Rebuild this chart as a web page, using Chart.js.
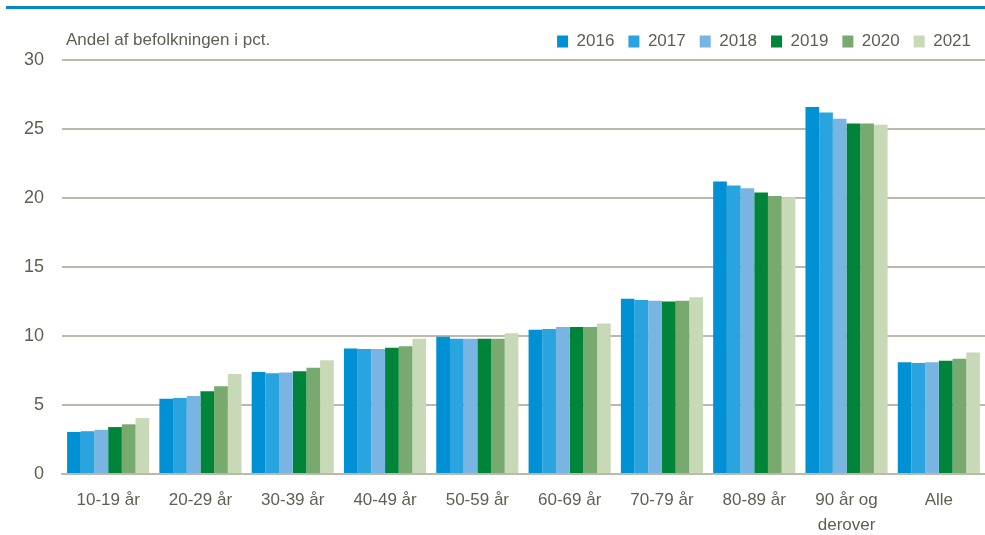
<!DOCTYPE html>
<html>
<head>
<meta charset="utf-8">
<script src="https://cdn.jsdelivr.net/npm/chart.js@4"></script>
<style>
  html, body { margin: 0; padding: 0; background: #fff; }
  #wrap { position: relative; width: 985px; height: 535px; }
  #topline { position: absolute; left: 6px; right: 0; top: 6px; height: 3px; background: #0089cf; }
  canvas { position: absolute; left: 0; top: 0; }
</style>
</head>
<body>
<div id="wrap">
  <canvas id="canvas" width="985" height="535"></canvas>
  <div id="topline"></div>
</div>
<script>
const ctx = document.getElementById('canvas').getContext('2d');

const FONT = '"Liberation Sans Narrow", "Arial Narrow", "Liberation Sans", sans-serif';
const TEXT_COLOR = '#5f5f53';
const GRID_COLOR = '#b9b9ac';

const categories = ['10-19 år', '20-29 år', '30-39 år', '40-49 år', '50-59 år',
    '60-69 år', '70-79 år', '80-89 år', ['90 år og', 'derover'], 'Alle'];
const years = ['2016', '2017', '2018', '2019', '2020', '2021'];
const colors = ['#0090d4', '#29a4de', '#78b5e3', '#00843a', '#78aa6f', '#c8d9b7'];

const v2016 = [3.05, 5.45, 7.4, 9.1, 9.95, 10.45, 12.7, 21.2, 26.6, 8.1];
const v2017 = [3.1, 5.5, 7.3, 9.05, 9.8, 10.5, 12.6, 20.9, 26.2, 8.05];
const v2018 = [3.2, 5.65, 7.35, 9.05, 9.8, 10.65, 12.55, 20.7, 25.75, 8.1];
const v2019 = [3.4, 6.0, 7.45, 9.15, 9.8, 10.65, 12.5, 20.4, 25.4, 8.2];
const v2020 = [3.6, 6.35, 7.7, 9.25, 9.8, 10.65, 12.55, 20.15, 25.4, 8.35];
const v2021 = [4.05, 7.25, 8.25, 9.8, 10.2, 10.9, 12.8, 20.05, 25.3, 8.8];
const series = [v2016, v2017, v2018, v2019, v2020, v2021];

const yTicks = [0, 5, 10, 15, 20, 25, 30];
const yTitle = 'Andel af befolkningen i pct.';

// title drawn at top left, level with the legend
const titlePlugin = {
    id: 'sideTitle',
    afterDraw(chart) {
        const c = chart.ctx;
        c.save();
        c.font = '17px ' + FONT;
        c.fillStyle = TEXT_COLOR;
        c.textBaseline = 'middle';
        c.textAlign = 'left';
        c.fillText(yTitle, 66, 40);
        c.restore();
    }
};

new Chart(ctx, {
    type: 'bar',
    data: {
        labels: categories,
        datasets: years.map((y, i) => ({
            label: y,
            data: series[i],
            backgroundColor: colors[i],
            borderWidth: 0,
            categoryPercentage: 0.89,
            barPercentage: 1.0
        }))
    },
    options: {
        responsive: false,
        animation: false,
        layout: { padding: { top: 19, right: 0, bottom: 0, left: 0 } },
        plugins: {
            legend: {
                position: 'top',
                align: 'end',
                labels: {
                    boxWidth: 11,
                    boxHeight: 12,
                    padding: 14,
                    color: TEXT_COLOR,
                    font: { family: FONT, size: 17 }
                }
            },
            tooltip: { enabled: false }
        },
        scales: {
            x: {
                afterFit(scale) { scale.height = 61; },
                grid: { display: false, drawTicks: false },
                border: { color: GRID_COLOR, width: 2 },
                ticks: {
                    color: TEXT_COLOR,
                    font: { family: FONT, size: 17, lineHeight: 1.45 },
                    padding: 14,
                    maxRotation: 0,
                    autoSkip: false
                }
            },
            y: {
                min: 0,
                max: 30,
                afterBuildTicks(scale) {
                    scale.ticks = yTicks.map(v => ({ value: v }));
                },
                afterFit(scale) { scale.width = 62; },
                grid: { color: GRID_COLOR, lineWidth: 2, drawTicks: false },
                border: { display: false },
                ticks: {
                    color: TEXT_COLOR,
                    font: { family: FONT, size: 18 },
                    padding: 18
                }
            }
        }
    },
    plugins: [titlePlugin]
});
</script>
</body>
</html>
